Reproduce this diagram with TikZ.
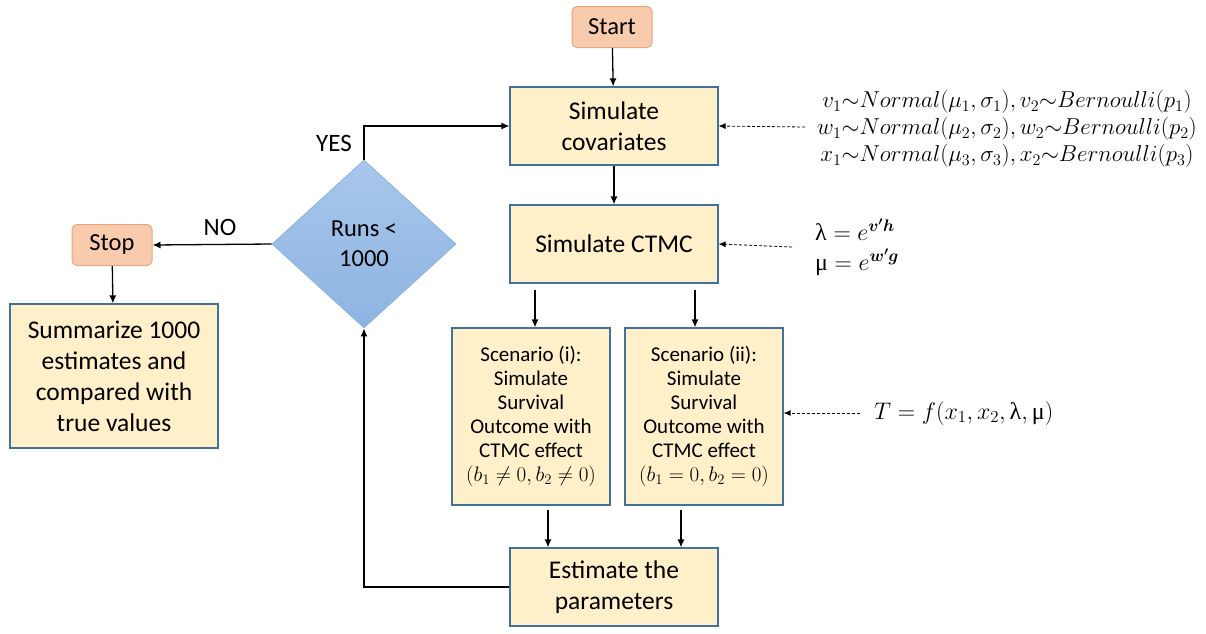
\RequirePackage{fix-cm}
\documentclass[tikz,border=0pt]{standalone}
\usepackage{amsmath,bm}
\usepackage{fontspec}
\setmainfont{Carlito}
\newfontfamily\grk{Liberation Serif}
\usetikzlibrary{arrows.meta,shapes.geometric}
\definecolor{boxfill}{HTML}{FFF0C9}
\definecolor{boxline}{HTML}{41719C}
\definecolor{termfill}{HTML}{F8CBAD}
\definecolor{termline}{HTML}{E8A57C}
\definecolor{dectop}{HTML}{A8C7EB}
\definecolor{decbot}{HTML}{8DB4E2}
\definecolor{decline}{HTML}{8DB3E0}
\newcommand{\glam}{\mbox{\grk λ}}
\newcommand{\gmu}{\mbox{\grk μ}}
\tikzset{
  procbox/.style={draw=boxline,fill=boxfill,line width=1.2pt,rectangle,align=center,inner sep=0pt,font=\fontsize{25.5}{31}\selectfont},
  scenbox/.style={draw=boxline,fill=boxfill,line width=1.2pt,rectangle,align=center,inner sep=0pt,minimum width=158pt,minimum height=177pt,font=\fontsize{21}{24}\selectfont},
  termbox/.style={draw=termline,fill=termfill,line width=1pt,rounded corners=5pt,align=center,inner sep=0pt,minimum width=80pt,minimum height=41pt,font=\fontsize{24.5}{29}\selectfont},
  decbox/.style={draw=decline,top color=dectop,bottom color=decbot,line width=0.8pt,diamond,aspect=1.095,inner sep=0pt,minimum width=184pt,minimum height=168pt,align=center,font=\fontsize{24.5}{30}\selectfont},
  flow/.style={line width=1.3pt,-{Latex[length=8pt,width=7pt]}},
  dflow/.style={line width=0.8pt,dashed,dash pattern=on 3pt off 2pt,-{Latex[length=7pt,width=6pt]}},
  lbl/.style={font=\fontsize{25}{30}\selectfont,inner sep=0pt},
  formula/.style={inner sep=0pt,font=\fontsize{23}{27}\selectfont}
}
\begin{document}
\begin{tikzpicture}[x=1pt,y=-1pt]
\useasboundingbox (0,0) rectangle (1206,633);
% nodes
\node[termbox] (start) at (612,27) {Start};
\node[procbox,minimum width=208pt,minimum height=78pt] (cov) at (614,126) {Simulate\\covariates};
\node[procbox,minimum width=208pt,minimum height=78pt] (ctmc) at (614,244) {Simulate CTMC};
\node[scenbox] (s1) at (531,416.5) {Scenario (i):\\Simulate\\Survival\\Outcome with\\CTMC effect\\$(b_1\neq0,b_2\neq0)$};
\node[scenbox] (s2) at (704,416.5) {Scenario (ii):\\Simulate\\Survival\\Outcome with\\CTMC effect\\$(b_1=0,b_2=0)$};
\node[procbox,minimum width=208pt,minimum height=78pt] (est) at (614,587) {Estimate the\\parameters};
\node[decbox] (dec) at (364,244) {Runs <\\1000};
\node[termbox] (stop) at (112,245) {Stop};
\node[procbox,minimum width=208pt,minimum height=144pt] (sum) at (114,376) {Summarize 1000\\estimates and\\compared with\\true values};
% formulas
\node[formula,align=center] (f1) at (1007,129) {$v_1{\sim}Normal(\mu_1,\sigma_1),v_2{\sim}Bernoulli(p_1)$\\$w_1{\sim}Normal(\mu_2,\sigma_2),w_2{\sim}Bernoulli(p_2)$\\$x_1{\sim}Normal(\mu_3,\sigma_3),x_2{\sim}Bernoulli(p_3)$};
\node[formula,align=left,anchor=west,font=\fontsize{24}{30}\selectfont] (f2) at (815,247) {$\glam=e^{\bm{v'h}}$\\$\gmu=e^{\bm{w'g}}$};
\node[formula,anchor=west,font=\fontsize{24}{27}\selectfont] (f3) at (874,413) {$T=f(x_1,x_2,\glam,\gmu)$};
% coordinates
\coordinate (d1) at (805,127);
\coordinate (d2) at (792,247);
\coordinate (d3) at (860,413);
\coordinate (c1) at (535,290);
\coordinate (c2) at (695,290);
\coordinate (e1) at (548,510);
\coordinate (e2) at (681,510);
\coordinate (yesc) at (364,126);
\coordinate (loopc) at (364,587);
% connectors
\draw[flow] (start) -- (cov);
\draw[flow] (cov) -- (ctmc);
\draw[flow] (c1) -- (s1.north -| c1);
\draw[flow] (c2) -- (s2.north -| c2);
\draw[flow] (e1) -- (est.north -| e1);
\draw[flow] (e2) -- (est.north -| e2);
\draw[flow] (est.west) -- (loopc) -- (dec.south);
\draw[flow] (dec.north) -- (yesc) -- (cov.west);
\draw[flow] (dec.west) -- (stop.east);
\draw[flow] (stop) -- (sum);
\draw[dflow] (d1) -- (cov.east);
\draw[dflow] (d2) -- (ctmc.east);
\draw[dflow] (d3) -- (s2.east |- d3);
% labels
\node[lbl] (yes) at (334,143) {YES};
\node[lbl] (no) at (220,227) {NO};
\end{tikzpicture}
\end{document}
